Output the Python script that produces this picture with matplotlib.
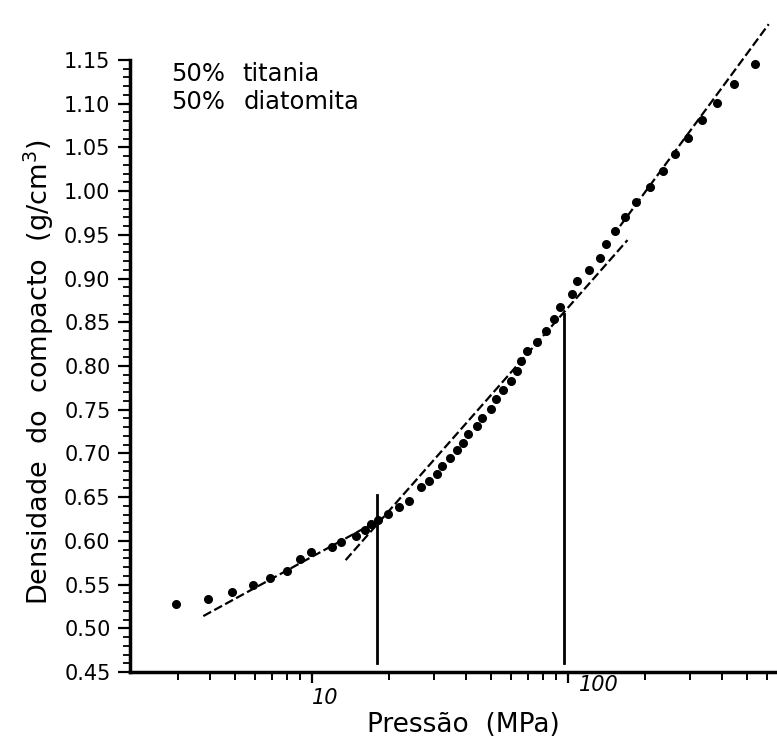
import matplotlib
matplotlib.use("Agg")
import matplotlib.pyplot as plt
from matplotlib.ticker import FixedLocator, NullFormatter

# measured compaction curve: 50% titania / 50% diatomita
pressure = [2.95, 3.94, 4.87, 5.88, 6.88, 7.97, 8.96, 9.89, 12.0, 13.0,
            14.9, 16.1, 17.0, 18.2, 19.9, 21.9, 24.0, 26.7, 28.8, 30.7,
            32.2, 34.6, 36.8, 38.8, 40.7, 44.0, 46.1, 49.9, 52.4, 55.7,
            59.7, 63.1, 65.8, 69.5, 75.7, 82.4, 88.6, 93.3, 103.7, 108.9,
            120.3, 133.3, 140.8, 152.4, 167.5, 185.2, 208.4, 234.7, 261.2, 294.1,
            333.2, 383.5, 444.0, 539.8]
density = [0.528, 0.533, 0.541, 0.549, 0.557, 0.566, 0.579, 0.587, 0.593, 0.599,
           0.606, 0.612, 0.619, 0.624, 0.631, 0.639, 0.646, 0.662, 0.668, 0.676,
           0.686, 0.695, 0.704, 0.712, 0.722, 0.731, 0.740, 0.751, 0.762, 0.773,
           0.783, 0.794, 0.806, 0.817, 0.827, 0.840, 0.854, 0.867, 0.882, 0.897,
           0.910, 0.924, 0.939, 0.954, 0.971, 0.988, 1.005, 1.023, 1.042, 1.061,
           1.081, 1.101, 1.123, 1.145]

# straight fits (semi-log), end points
fit_low_p = [3.77, 17.1]
fit_low_d = [0.514, 0.619]
fit_mid_p = [13.55, 170.8]
fit_mid_d = [0.578, 0.944]
fit_high_p = [159.7, 608.0]
fit_high_d = [0.960, 1.191]

# transition pressures (vertical markers)
trans_p = [17.9, 96.2]
trans_top = [0.652, 0.859]
trans_bottom = 0.46

y_major = [0.45, 0.50, 0.55, 0.60, 0.65, 0.70, 0.75, 0.80, 0.85, 0.90,
           0.95, 1.00, 1.05, 1.10, 1.15]
y_labels = ["0.45", "0.50", "0.55", "0.60", "0.65", "0.70", "0.75", "0.80",
            "0.85", "0.90", "0.95", "1.00", "1.05", "1.10", "1.15"]
x_major = [10, 100]
x_minor = [3, 4, 5, 6, 7, 8, 9, 20, 30, 40, 50, 60, 70, 80, 90,
           200, 300, 400, 500, 600]

plt.rcParams['font.family'] = ['DejaVu Sans']

fig = plt.figure(figsize=(7.77, 7.38), dpi=100)
ax = fig.add_axes([0.1673, 0.0894, 0.8327, 0.8293])

ax.plot(pressure, density, 'o', color='black', markersize=5.5, zorder=3)

dash = dict(color='black', linewidth=1.6, linestyle=(0, (4, 1.6)), clip_on=False)
ax.plot(fit_low_p, fit_low_d, **dash)
ax.plot(fit_mid_p, fit_mid_d, **dash)
ax.plot(fit_high_p, fit_high_d, **dash)

for p, top in zip(trans_p, trans_top):
    ax.plot([p, p], [trans_bottom, top], color='black', linewidth=2.0)

ax.set_xscale('log')
ax.set_xlim(1.95, 655)
ax.set_ylim(0.45, 1.15)

ax.spines['top'].set_visible(False)
ax.spines['right'].set_visible(False)
ax.spines['left'].set_linewidth(2.5)
ax.spines['bottom'].set_linewidth(2.5)

ax.set_yticks(y_major, y_labels)
ax.yaxis.set_minor_locator(FixedLocator([0.45 + 0.01 * i for i in range(71)]))
ax.tick_params(axis='y', which='major', direction='out', length=9, width=1.6,
               pad=5, labelsize=15)
ax.tick_params(axis='y', which='minor', direction='out', length=5, width=1.3)

ax.xaxis.set_major_locator(FixedLocator(x_major))
ax.xaxis.set_minor_locator(FixedLocator(x_minor))
ax.xaxis.set_major_formatter(NullFormatter())
ax.xaxis.set_minor_formatter(NullFormatter())
ax.tick_params(axis='x', which='major', direction='out', length=8, width=1.6)
ax.tick_params(axis='x', which='minor', direction='out', length=6, width=1.4)

# x tick labels sit a bit right of their ticks, like the original plot
ax.annotate("10", xy=(10, 0), xycoords=('data', 'axes fraction'),
            xytext=(10, -19), textcoords='offset points',
            ha='center', va='center', fontsize=15, style='italic')
ax.annotate("100", xy=(100, 0), xycoords=('data', 'axes fraction'),
            xytext=(22, -9), textcoords='offset points',
            ha='center', va='center', fontsize=15, style='italic')

ax.set_xlabel("Pressão  (MPa)", fontsize=19)
ax.xaxis.set_label_coords(0.515, -0.066)
ax.set_ylabel("Densidade  do  compacto  (g/cm$^3$)", fontsize=19.5)
ax.yaxis.set_label_coords(-0.115, 0.49)

ax.text(2.83, 1.134, "50%", fontsize=17.5, va='center', ha='left')
ax.text(5.37, 1.134, "titania", fontsize=17.5, va='center', ha='left')
ax.text(2.81, 1.102, "50%", fontsize=17.5, va='center', ha='left')
ax.text(5.42, 1.102, "diatomita", fontsize=17.5, va='center', ha='left')

plt.savefig('out.png', dpi=100)
